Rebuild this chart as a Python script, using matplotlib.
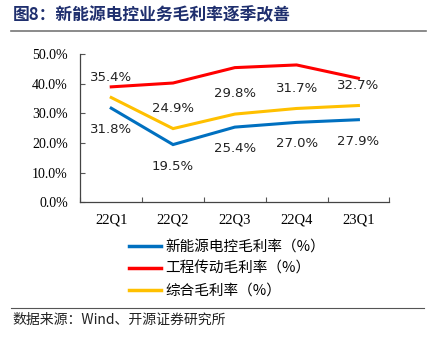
import numpy as np
import matplotlib.pyplot as plt
from matplotlib.lines import Line2D

plt.rcParams['font.family'] = ['Noto Sans CJK SC', 'DejaVu Sans']

quarters = ['22Q1', '22Q2', '22Q3', '22Q4', '23Q1']
ev_control = [31.8, 19.5, 25.4, 27.0, 27.9]       # 新能源电控毛利率
engineering = [39.0, 40.3, 45.5, 46.4, 41.9]      # 工程传动毛利率
overall = [35.4, 24.9, 29.8, 31.7, 32.7]          # 综合毛利率
series_names = ['新能源电控毛利率（%）', '工程传动毛利率（%）', '综合毛利率（%）']
colors = ['#0070C0', '#FF0000', '#FFC000']

fig = plt.figure(figsize=(4.28, 3.40), dpi=100)
ax = fig.add_axes([0.1877, 0.405, 0.7219, 0.4353])

x = np.arange(len(quarters))
ax.plot(x, ev_control, color=colors[0], lw=2.2, solid_joinstyle='miter')
ax.plot(x, engineering, color=colors[1], lw=2.2, solid_joinstyle='miter')
ax.plot(x, overall, color=colors[2], lw=2.2, solid_joinstyle='miter')

label_font = dict(family='DejaVu Sans', fontsize=9.5, color='#222222', ha='center', va='center')
for xi, v in zip(x, overall):
    ax.annotate(f'{v:.1f}%', (xi, v), xytext=(0, 14.5), textcoords='offset points', **label_font)
for xi, v in zip(x, ev_control):
    ax.annotate(f'{v:.1f}%', (xi, v), xytext=(0, -15.5), textcoords='offset points', **label_font)

ax.set_xlim(-0.5, len(quarters) - 0.5)
ax.set_ylim(0, 50)
ax.set_yticks(np.arange(0, 51, 10))
ax.set_yticklabels([f'{t:.1f}%' for t in np.arange(0, 51, 10)],
                   family='Liberation Serif', fontsize=10)
ax.set_xticks(np.arange(-0.5, len(quarters), 1))
ax.set_xticklabels([])
ax.set_xticks(x, minor=True)
ax.set_xticklabels(quarters, minor=True, family='Liberation Serif', fontsize=10.5)
ax.tick_params(axis='both', which='major', direction='in', length=3.5, width=0.8, color='#555555')
ax.tick_params(axis='x', which='minor', length=0, pad=8)
ax.tick_params(axis='y', pad=9)
for side in ['top', 'right']:
    ax.spines[side].set_visible(False)
for side in ['left', 'bottom']:
    ax.spines[side].set_color('#444444')
    ax.spines[side].set_linewidth(0.9)

handles = [Line2D([], [], color=c, lw=2.5) for c in colors]
fig.legend(handles, series_names, loc='upper left', bbox_to_anchor=(0.302, 0.295),
           frameon=False, fontsize=10.5, handlelength=2.2, handletextpad=0.3,
           labelspacing=0.55, borderpad=0, borderaxespad=0)

fig.text(0.03, 0.955, '图8：新能源电控业务毛利率逐季改善', fontsize=12.1, fontweight='bold',
         color='#1F2F6E', ha='left', va='center')
fig.add_artist(Line2D([0.025, 0.995], [0.908, 0.908], color='#777777', lw=1.2))
fig.add_artist(Line2D([0.025, 0.99], [0.095, 0.095], color='#555555', lw=0.8))
fig.text(0.03, 0.058, '数据来源：Wind、开源证券研究所', fontsize=10, color='#222222',
         ha='left', va='center')

fig.savefig('out.png', dpi=100)
